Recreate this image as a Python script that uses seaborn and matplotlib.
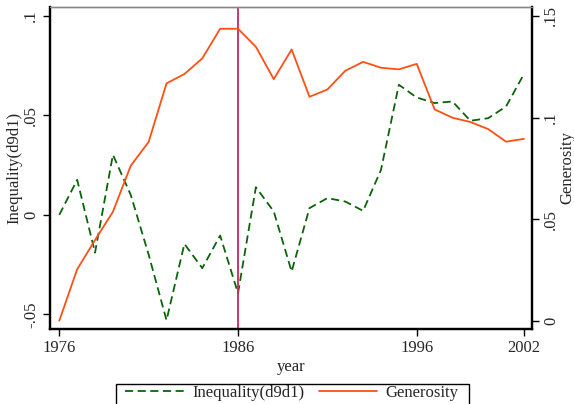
import numpy as np
import pandas as pd
import seaborn as sns
import matplotlib.pyplot as plt
from matplotlib.lines import Line2D
from matplotlib.patches import Rectangle

# data
years = list(range(1976, 2003))
inequality = [0.0, 0.0176, -0.019, 0.0302, 0.010, -0.020, -0.053, -0.0146, -0.0268,
              -0.0104, -0.0394, 0.0139, 0.0017, -0.0285, 0.0034, 0.0084, 0.0067,
              0.002, 0.0226, 0.0654, 0.059, 0.0562, 0.057, 0.0473, 0.0486, 0.0545, 0.0708]
generosity = [0.0, 0.0253, 0.0397, 0.0536, 0.0763, 0.088, 0.1168, 0.1214, 0.1291,
              0.1437, 0.1437, 0.1348, 0.1189, 0.1335, 0.1102, 0.1138, 0.123, 0.1274,
              0.1245, 0.1237, 0.1264, 0.104, 0.0999, 0.0978, 0.0943, 0.0881, 0.0895]

xticks = [1976, 1986, 1996, 2002]
left_ticks = [-0.05, 0, 0.05, 0.1]
left_labels = ['-.05', '0', '.05', '.1']
right_ticks = [0, 0.05, 0.1, 0.15]
right_labels = ['0', '.05', '.1', '.15']

df = pd.DataFrame({'year': years, 'inequality': inequality, 'generosity': generosity})

sns.set_style("white")
plt.rcParams['font.family'] = ['Liberation Serif', 'DejaVu Serif']
plt.rcParams['font.size'] = 12

green = '#0a640a'
orange = '#ff5014'
vcol = '#c8285a'

fig = plt.figure(figsize=(5.74, 4.04), dpi=100)
ax = fig.add_axes([50 / 574, 75 / 404, 482 / 574, 322 / 404])

sns.lineplot(data=df, x='year', y='inequality', ax=ax, color=green, lw=1.3,
             dashes=False, legend=False)
ax.lines[0].set_dashes((4.5, 2.5))
ax.axvline(1986, color=vcol, lw=1.3)

ax2 = ax.twinx()
sns.lineplot(data=df, x='year', y='generosity', ax=ax2, color=orange, lw=1.3, legend=False)

ax.set_xlim(1975.48, 2002.45)
ax.set_ylim(-0.0574, 0.1045)
ax2.set_ylim(-0.0041, 0.1544)

ax.set_xticks(xticks)
ax.set_xticklabels([str(y) for y in xticks])
ax.set_yticks(left_ticks)
ax.set_yticklabels(left_labels, rotation=90, va='center')
ax2.set_yticks(right_ticks)
ax2.set_yticklabels(right_labels, rotation=90, va='center')

ax.set_xlabel('year', fontsize=12, labelpad=2)
ax.set_ylabel('Inequality(d9d1)', fontsize=12, labelpad=0)
ax2.set_ylabel('Generosity', fontsize=12, rotation=90, labelpad=0)

for a in (ax, ax2):
    a.tick_params(direction='out', length=5, width=1, color='black', labelsize=12, pad=3)
    for s in a.spines.values():
        s.set_color('black')
        s.set_linewidth(1.6)
    a.spines['top'].set_color('#888888')
    a.spines['top'].set_linewidth(1.0)
ax.tick_params(axis='both', left=True, bottom=True)
ax2.tick_params(axis='y', right=True)

# legend; its box runs off the bottom edge as in the reference
handles = [Line2D([], [], color=green, lw=1.3, dashes=(4.5, 2.5)),
           Line2D([], [], color=orange, lw=1.3)]
fig.legend(handles, ['Inequality(d9d1)', 'Generosity'], loc='center',
           bbox_to_anchor=(292 / 574, 1 - 393 / 404), ncol=2, frameon=False,
           fontsize=12, handlelength=3.5, handletextpad=0.5, borderpad=0,
           columnspacing=0.9, borderaxespad=0)
fig.patches.append(Rectangle((116 / 574, -0.3), 353 / 574, 20 / 404 + 0.3,
                             transform=fig.transFigure, fill=False,
                             edgecolor='black', lw=1.0))

fig.savefig('out.png', dpi=100)
